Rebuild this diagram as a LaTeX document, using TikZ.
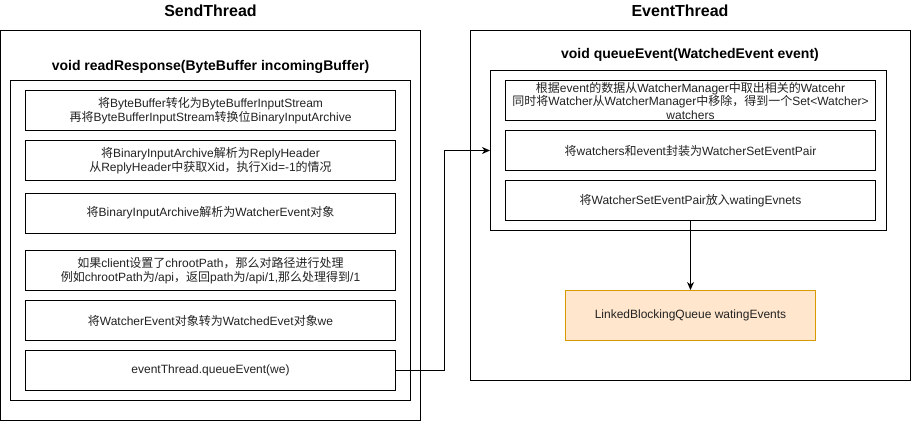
\documentclass[tikz,border=0pt]{standalone}
\usepackage{fontspec}
\setmainfont{Liberation Sans}
\newfontfamily\cjkfont{Noto Sans CJK SC}
\newcommand{\zh}[1]{{\cjkfont #1}}
\usetikzlibrary{arrows.meta}
\definecolor{qfill}{HTML}{FFE6CC}
\definecolor{qdraw}{HTML}{D79B00}
\definecolor{txt}{HTML}{222222}
\tikzset{
  frame/.style={draw=black, line width=1pt, fill=none},
  stepbox/.style={draw=black, line width=1pt, inner sep=0pt, minimum width=370pt, minimum height=40pt, align=center, text=txt, font=\fontsize{12}{13.5}\selectfont},
  titletext/.style={font=\bfseries\fontsize{16}{18}\selectfont, inner sep=0pt},
  functext/.style={font=\bfseries\fontsize{14}{16}\selectfont, inner sep=0pt},
  conn/.style={draw=black, line width=1pt},
  arr/.style={conn, -{Stealth[length=8pt, width=7pt, inset=2.5pt]}},
  queuebox/.style={draw=qdraw, fill=qfill, line width=1pt, inner sep=0pt, minimum width=250pt, minimum height=50pt, text=txt, font=\fontsize{12}{14}\selectfont}
}
\begin{document}
\begin{tikzpicture}[x=1pt, y=-1pt]
\useasboundingbox (0,0) rectangle (911,421);
\fill[white] (0,0) rectangle (911,421);

% SendThread
\node[titletext] (st) at (210.5,11) {SendThread};
\draw[frame] (0.5,30.5) rectangle (420.5,420);
\node[functext] (rr) at (210.5,67) {void readResponse(ByteBuffer incomingBuffer)};
\draw[frame] (10.5,80.5) rectangle (410.5,400.5);

\node[stepbox] (b1) at (210.5,110.5) {\zh{将}ByteBuffer\zh{转化为}ByteBufferInputStream\\\zh{再将}ByteBufferInputStream\zh{转换位}BinaryInputArchive};
\node[stepbox] (b2) at (210.5,160.5) {\zh{将}BinaryInputArchive\zh{解析为}ReplyHeader\\\zh{从}ReplyHeader\zh{中获取}Xid\zh{，执行}Xid=-1\zh{的情况}};
\node[stepbox] (b3) at (210.5,213) {\zh{将}BinaryInputArchive\zh{解析为}WatcherEvent\zh{对象}};
\node[stepbox] (b4) at (210.5,270.5) {\zh{如果}client\zh{设置了}chrootPath\zh{，那么对路径进行处理}\\\zh{例如}chrootPath\zh{为}/api\zh{，返回}path\zh{为}/api/1,\zh{那么处理得到}/1};
\node[stepbox] (b5) at (210.5,320.5) {\zh{将}WatcherEvent\zh{对象转为}WatchedEvet\zh{对象}we};
\node[stepbox] (b6) at (210.5,370.5) {eventThread.queueEvent(we)};

% EventThread
\node[titletext] (et) at (680,11) {EventThread};
\draw[frame] (470.5,30.5) rectangle (910.5,380.5);
\node[functext] (qe) at (690,55) {void queueEvent(WatchedEvent event)};
\node[draw=black, line width=1pt, inner sep=0pt, minimum width=396pt, minimum height=160pt] (qin) at (688.5,150.5) {};

\node[stepbox] (bA) at (690.5,100.5) {\zh{根据}event\zh{的数据从}WatcherManager\zh{中取出相关的}Watcehr\\\zh{同时将}Watcher\zh{从}WatcherManager\zh{中移除，得到一个}Set<Watcher>\\watchers};
\node[stepbox] (bB) at (690.5,150.5) {\zh{将}watchers\zh{和}event\zh{封装为}WatcherSetEventPair};
\node[stepbox] (bC) at (690.5,200.5) {\zh{将}WatcherSetEventPair\zh{放入}watingEvnets};

\node[queuebox] (q) at (690.5,315.5) {LinkedBlockingQueue watingEvents};

% connectors
\draw[arr] (b6.east) -- ++(48,0) |- (qin.west);
\draw[arr] (bC.south) -- (q.north);
\end{tikzpicture}
\end{document}
